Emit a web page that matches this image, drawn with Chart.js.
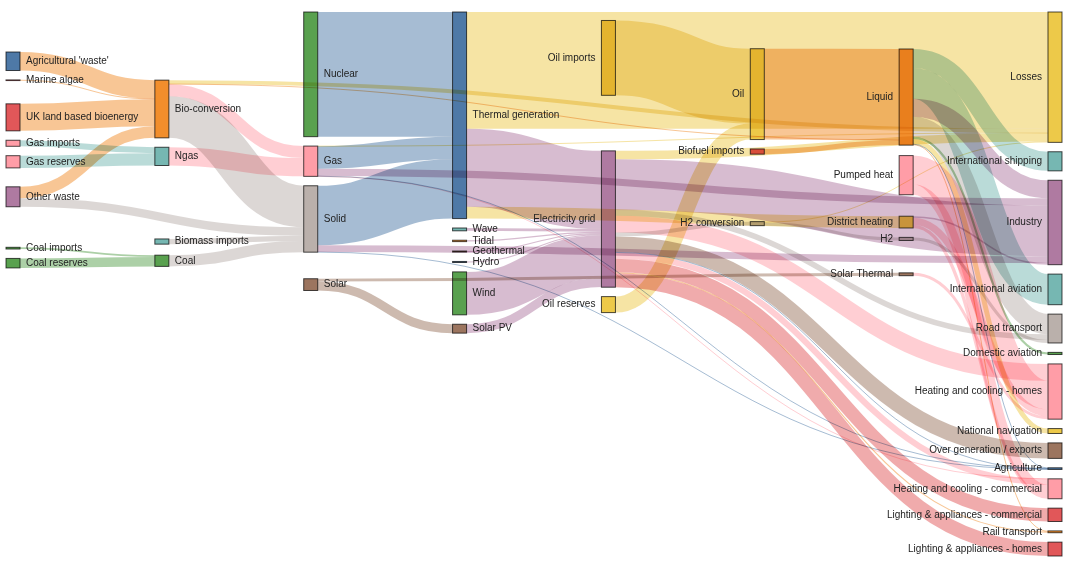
<!DOCTYPE html>
<html lang="en">
<head>
  <meta charset="UTF-8">
  <title>UK Energy Flows Sankey</title>
  <script src="https://cdn.jsdelivr.net/npm/chart.js"></script>
  <style>
    html, body {
      margin: 0;
      padding: 0;
      background: #fff;
    }
    .chart-container {
      position: relative;
      width: 1080px;
      height: 562px;
    }
  </style>
</head>
<body>

  <div class="chart-container">
    <canvas id="sankeyChart"></canvas>
  </div>

  <script>
    // nodes, top to bottom inside each column, left column first
    const nodeOrder = [
      "Agricultural 'waste'", 'Marine algae', 'UK land based bioenergy', 'Gas imports', 'Gas reserves',
      'Other waste', 'Coal imports', 'Coal reserves',
      'Bio-conversion', 'Ngas', 'Biomass imports', 'Coal',
      'Nuclear', 'Gas', 'Solid', 'Solar',
      'Thermal generation', 'Wave', 'Tidal', 'Geothermal', 'Hydro', 'Wind', 'Solar PV',
      'Oil imports', 'Electricity grid', 'Oil reserves',
      'Oil', 'Biofuel imports', 'H2 conversion',
      'Liquid', 'Pumped heat', 'District heating', 'H2', 'Solar Thermal',
      'Losses', 'International shipping', 'Industry', 'International aviation', 'Road transport',
      'Domestic aviation', 'Heating and cooling - homes', 'National navigation', 'Over generation / exports',
      'Agriculture', 'Heating and cooling - commercial', 'Lighting & appliances - commercial',
      'Rail transport', 'Lighting & appliances - homes'
    ];

    // flows: source -> target, value (TWh)
    const linkSources = [
      "Agricultural 'waste'", 'Bio-conversion', 'Bio-conversion', 'Bio-conversion', 'Bio-conversion',
      'Biofuel imports', 'Biomass imports', 'Coal imports', 'Coal reserves', 'Coal',
      'District heating', 'District heating', 'District heating',
      'Electricity grid', 'Electricity grid', 'Electricity grid', 'Electricity grid', 'Electricity grid', 'Electricity grid',
      'Electricity grid', 'Electricity grid', 'Electricity grid', 'Electricity grid', 'Electricity grid',
      'Gas imports', 'Gas reserves', 'Gas', 'Gas', 'Gas', 'Gas', 'Gas',
      'Geothermal', 'H2 conversion', 'H2 conversion', 'H2', 'Hydro',
      'Liquid', 'Liquid', 'Liquid', 'Liquid', 'Liquid', 'Liquid', 'Liquid', 'Liquid',
      'Marine algae', 'Ngas', 'Nuclear', 'Oil imports', 'Oil reserves', 'Oil',
      'Other waste', 'Other waste', 'Pumped heat', 'Pumped heat',
      'Solar PV', 'Solar Thermal', 'Solar', 'Solar',
      'Solid', 'Solid', 'Solid', 'Thermal generation', 'Thermal generation', 'Thermal generation',
      'Tidal', 'UK land based bioenergy', 'Wave', 'Wind'
    ];
    const linkTargets = [
      'Bio-conversion', 'Liquid', 'Losses', 'Solid', 'Gas',
      'Liquid', 'Solid', 'Coal', 'Coal', 'Solid',
      'Industry', 'Heating and cooling - commercial', 'Heating and cooling - homes',
      'Over generation / exports', 'Heating and cooling - homes', 'H2 conversion', 'Industry', 'Road transport', 'Agriculture',
      'Heating and cooling - commercial', 'Losses', 'Rail transport', 'Lighting & appliances - commercial', 'Lighting & appliances - homes',
      'Ngas', 'Ngas', 'Heating and cooling - commercial', 'Losses', 'Thermal generation', 'Agriculture', 'Industry',
      'Electricity grid', 'H2', 'Losses', 'Road transport', 'Electricity grid',
      'Industry', 'International shipping', 'Road transport', 'Domestic aviation', 'International aviation', 'Agriculture', 'National navigation', 'Rail transport',
      'Bio-conversion', 'Gas', 'Thermal generation', 'Oil', 'Oil', 'Liquid',
      'Solid', 'Bio-conversion', 'Heating and cooling - homes', 'Heating and cooling - commercial',
      'Electricity grid', 'Heating and cooling - homes', 'Solar Thermal', 'Solar PV',
      'Agriculture', 'Thermal generation', 'Industry', 'Electricity grid', 'Losses', 'District heating',
      'Electricity grid', 'Bio-conversion', 'Electricity grid', 'Electricity grid'
    ];
    const linkValues = [
      124.729, 0.597, 26.862, 280.322, 81.144,
      35, 35, 11.606, 63.965, 75.571,
      10.639, 22.505, 46.184,
      104.453, 113.726, 27.14, 342.165, 37.797, 4.412,
      40.858, 56.691, 7.863, 90.008, 93.494,
      40.719, 82.233, 0.129, 1.401, 151.891, 2.096, 48.58,
      7.013, 20.897, 6.242, 20.897, 6.995,
      121.066, 128.69, 135.835, 14.458, 206.267, 3.64, 33.218, 4.413,
      4.375, 122.952, 839.978, 504.287, 107.703, 611.99,
      56.587, 77.81, 193.026, 70.672,
      59.901, 19.263, 19.263, 59.901,
      0.882, 400.12, 46.477, 525.531, 787.129, 79.329,
      9.452, 182.01, 19.013, 289.366
    ];

    const palette = ['#4e79a7', '#f28e2c', '#e15759', '#76b7b2', '#59a14f',
                     '#edc949', '#af7aa1', '#ff9da7', '#9c755f', '#bab0ab'];

    const NODE_WIDTH = 14;
    const NODE_PADDING = 9.4;
    const ITERATIONS = 6;
    const PADDING = { left: 6, right: 32, top: 12, bottom: 6 };
    const HEIGHT = 562;

    // d3-sankey style layout (right aligned, fixed node order), y in data units
    function sankeyLayout(heightPx) {
      const nodes = nodeOrder.map((name, index) => ({ name, index, sourceLinks: [], targetLinks: [] }));
      const byName = new Map(nodes.map(n => [n.name, n]));
      const links = linkValues.map((value, index) => {
        const link = { source: byName.get(linkSources[index]), target: byName.get(linkTargets[index]), value, index };
        link.source.sourceLinks.push(link);
        link.target.targetLinks.push(link);
        return link;
      });
      const total = arr => arr.reduce((s, d) => s + d.value, 0);
      nodes.forEach(n => { n.value = Math.max(total(n.sourceLinks), total(n.targetLinks)); });

      // colours by first word of the name, sources first
      const groups = [...new Set([...linkSources, ...linkTargets].map(s => s.split(/\W/)[0]))];
      nodes.forEach(n => { n.color = palette[groups.indexOf(n.name.split(/\W/)[0]) % palette.length]; });

      let current = new Set(nodes), next, step = 0;
      while (current.size) {
        next = new Set();
        for (const n of current) { n.depth = step; n.sourceLinks.forEach(l => next.add(l.target)); }
        current = next; step++;
      }
      current = new Set(nodes); step = 0;
      while (current.size) {
        next = new Set();
        for (const n of current) { n.height = step; n.targetLinks.forEach(l => next.add(l.source)); }
        current = next; step++;
      }

      const layers = Math.max(...nodes.map(n => n.depth)) + 1;
      const columns = Array.from({ length: layers }, () => []);
      nodes.forEach(n => {
        n.layer = Math.max(0, Math.min(layers - 1, layers - 1 - n.height));
        columns[n.layer].push(n);
      });

      const pxPerUnit = Math.min(...columns.map(c => (heightPx - (c.length - 1) * NODE_PADDING) / total(c)));
      const py = NODE_PADDING / pxPerUnit;
      const y0 = 0, y1 = heightPx / pxPerUnit;

      const byY = (a, b) => a.y0 - b.y0;
      const bySource = (a, b) => byY(a.source, b.source) || a.index - b.index;
      const byTarget = (a, b) => byY(a.target, b.target) || a.index - b.index;

      function reorderLinks(col) {
        col.forEach(n => { n.sourceLinks.sort(byTarget); n.targetLinks.sort(bySource); });
      }
      function reorderNodeLinks(n) {
        n.targetLinks.forEach(l => l.source.sourceLinks.sort(byTarget));
        n.sourceLinks.forEach(l => l.target.targetLinks.sort(bySource));
      }
      function pushDown(col, y, i, alpha) {
        for (; i < col.length; ++i) {
          const n = col[i];
          const dy = (y - n.y0) * alpha;
          if (dy > 1e-6) { n.y0 += dy; n.y1 += dy; }
          y = n.y1 + py;
        }
      }
      function pushUp(col, y, i, alpha) {
        for (; i >= 0; --i) {
          const n = col[i];
          const dy = (n.y1 - y) * alpha;
          if (dy > 1e-6) { n.y0 -= dy; n.y1 -= dy; }
          y = n.y0 - py;
        }
      }
      function resolveCollisions(col, alpha) {
        const i = col.length >> 1;
        const subject = col[i];
        pushUp(col, subject.y0 - py, i - 1, alpha);
        pushDown(col, subject.y1 + py, i + 1, alpha);
        pushUp(col, y1, col.length - 1, alpha);
        pushDown(col, y0, 0, alpha);
      }
      function targetTop(source, target) {
        let y = source.y0 - (source.sourceLinks.length - 1) * py / 2;
        for (const l of source.sourceLinks) { if (l.target === target) break; y += l.width + py; }
        for (const l of target.targetLinks) { if (l.source === source) break; y -= l.width; }
        return y;
      }
      function sourceTop(source, target) {
        let y = target.y0 - (target.targetLinks.length - 1) * py / 2;
        for (const l of target.targetLinks) { if (l.source === source) break; y += l.width + py; }
        for (const l of source.sourceLinks) { if (l.target === target) break; y -= l.width; }
        return y;
      }
      function relaxLeftToRight(alpha, beta) {
        for (let i = 1; i < columns.length; ++i) {
          const col = columns[i];
          for (const target of col) {
            let y = 0, w = 0;
            for (const l of target.targetLinks) {
              const v = l.value * (target.layer - l.source.layer);
              y += targetTop(l.source, target) * v;
              w += v;
            }
            if (!(w > 0)) continue;
            const dy = (y / w - target.y0) * alpha;
            target.y0 += dy; target.y1 += dy;
            reorderNodeLinks(target);
          }
          resolveCollisions(col, beta);
        }
      }
      function relaxRightToLeft(alpha, beta) {
        for (let i = columns.length - 2; i >= 0; --i) {
          const col = columns[i];
          for (const source of col) {
            let y = 0, w = 0;
            for (const l of source.sourceLinks) {
              const v = l.value * (l.target.layer - source.layer);
              y += sourceTop(source, l.target) * v;
              w += v;
            }
            if (!(w > 0)) continue;
            const dy = (y / w - source.y0) * alpha;
            source.y0 += dy; source.y1 += dy;
            reorderNodeLinks(source);
          }
          resolveCollisions(col, beta);
        }
      }

      columns.forEach(col => {
        let y = y0;
        col.forEach(n => {
          n.y0 = y;
          n.y1 = y + n.value;
          y = n.y1 + py;
          n.sourceLinks.forEach(l => { l.width = l.value; });
        });
        y = (y1 - y + py) / (col.length + 1);
        col.forEach((n, i) => { n.y0 += y * (i + 1); n.y1 += y * (i + 1); });
        reorderLinks(col);
      });

      for (let i = 0; i < ITERATIONS; ++i) {
        const alpha = Math.pow(0.99, i);
        const beta = Math.max(1 - alpha, (i + 1) / ITERATIONS);
        relaxRightToLeft(alpha, beta);
        relaxLeftToRight(alpha, beta);
      }

      nodes.forEach(n => {
        let a = n.y0, b = n.y0;
        n.sourceLinks.forEach(l => { l.y0 = a + l.width / 2; a += l.width; });
        n.targetLinks.forEach(l => { l.y1 = b + l.width / 2; b += l.width; });
      });

      return { nodes, links, layers, yMax: y1 };
    }

    const layout = sankeyLayout(HEIGHT - PADDING.top - PADDING.bottom);

    const sankeyPlugin = {
      id: 'sankey',
      beforeDraw(chart) {
        const { ctx, width, height } = chart;
        ctx.save();
        ctx.fillStyle = '#fff';
        ctx.fillRect(0, 0, width, height);
        ctx.restore();
      },
      afterDatasetsDraw(chart) {
        const { ctx, scales: { x, y } } = chart;
        const left = n => x.getPixelForValue(n.layer);
        const right = n => left(n) + NODE_WIDTH;
        const yp = v => y.getPixelForValue(v);

        ctx.save();
        // nodes
        layout.nodes.forEach(n => {
          const top = yp(n.y0), h = yp(n.y1) - top;
          ctx.fillStyle = n.color;
          ctx.fillRect(left(n), top, NODE_WIDTH, h);
          ctx.strokeStyle = 'rgba(0,0,0,0.7)';
          ctx.lineWidth = 1;
          ctx.strokeRect(left(n), top, NODE_WIDTH, h);
        });

        // links, coloured by target
        ctx.globalCompositeOperation = 'multiply';
        ctx.globalAlpha = 0.5;
        layout.links.forEach(l => {
          const xs = right(l.source), xt = left(l.target);
          const ys = yp(l.y0), yt = yp(l.y1);
          const xm = (xs + xt) / 2;
          ctx.beginPath();
          ctx.moveTo(xs, ys);
          ctx.bezierCurveTo(xm, ys, xm, yt, xt, yt);
          ctx.strokeStyle = l.target.color;
          ctx.lineWidth = Math.max(1, Math.abs(yp(l.width) - yp(0)));
          ctx.stroke();
        });

        // labels
        ctx.globalCompositeOperation = 'source-over';
        ctx.globalAlpha = 1;
        ctx.font = '10px "Liberation Sans", Arial, sans-serif';
        ctx.fillStyle = '#222';
        ctx.textBaseline = 'middle';
        layout.nodes.forEach(n => {
          const onLeft = left(n) < chart.width / 2;
          ctx.textAlign = onLeft ? 'left' : 'right';
          ctx.fillText(n.name, onLeft ? right(n) + 6 : left(n) - 6, (yp(n.y0) + yp(n.y1)) / 2);
        });
        ctx.restore();
      }
    };

    new Chart(document.getElementById('sankeyChart'), {
      type: 'scatter',
      data: { datasets: [] },
      options: {
        responsive: true,
        maintainAspectRatio: false,
        animation: false,
        layout: { padding: PADDING },
        plugins: {
          legend: { display: false },
          tooltip: { enabled: false }
        },
        scales: {
          x: { type: 'linear', display: false, min: 0, max: layout.layers - 1 },
          y: { type: 'linear', display: false, min: 0, max: layout.yMax, reverse: true }
        }
      },
      plugins: [sankeyPlugin]
    });
  </script>

</body>
</html>
